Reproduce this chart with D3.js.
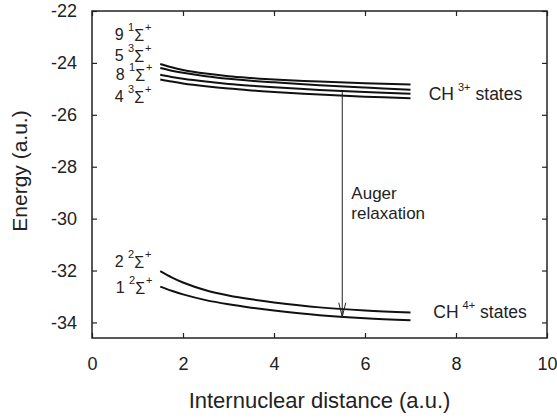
<!DOCTYPE html>
<html>
<head>
<meta charset="utf-8">
<script src="https://cdn.jsdelivr.net/npm/d3@7"></script>
<style>
  body { margin: 0; background: #fff; }
  text { font-family: Arial, "Liberation Sans", sans-serif; fill: #222; }
</style>
</head>
<body>
<div id="chart"></div>
<script>
// internuclear distance grid (a.u.)
var distance = [1.5, 1.75, 2, 2.5, 3, 3.5, 4, 5, 6, 7];

// CH3+ states, energies (a.u.), top to bottom
var ch3_9_1sig = [-24.04, -24.17, -24.27, -24.41, -24.51, -24.58, -24.64, -24.72, -24.78, -24.83];
var ch3_5_3sig = [-24.20, -24.30, -24.38, -24.51, -24.61, -24.69, -24.75, -24.86, -24.95, -25.03];
var ch3_8_1sig = [-24.46, -24.54, -24.61, -24.72, -24.81, -24.88, -24.94, -25.04, -25.12, -25.19];
var ch3_4_3sig = [-24.64, -24.72, -24.79, -24.90, -24.99, -25.06, -25.12, -25.22, -25.30, -25.36];

// CH4+ states
var ch4_2_2sig = [-32.02, -32.26, -32.46, -32.76, -32.96, -33.11, -33.23, -33.42, -33.54, -33.62];
var ch4_1_2sig = [-32.62, -32.78, -32.92, -33.14, -33.30, -33.43, -33.54, -33.72, -33.84, -33.92];

var curves = [ch3_9_1sig, ch3_5_3sig, ch3_8_1sig, ch3_4_3sig, ch4_2_2sig, ch4_1_2sig];

// state labels: number, multiplicity, anchor (r, E)
var stateNames = ["9", "5", "8", "4", "2", "1"];
var stateMult = ["1", "3", "1", "3", "2", "2"];
var stateLabelR = [0.5, 0.5, 0.52, 0.5, 0.5, 0.52];
var stateLabelE = [-23.10, -23.91, -24.66, -25.49, -31.86, -32.88];

// axis ticks
var xTicks = [0, 2, 4, 6, 8, 10];
var yTicks = [-22, -24, -26, -28, -30, -32, -34];

// auger arrow
var augerR = 5.5;

var layout = {
    width: 557,
    height: 420,
    margin: {top: 11, right: 10, bottom: 82, left: 92}
};
var w = layout.width - layout.margin.left - layout.margin.right,
    h = layout.height - layout.margin.top - layout.margin.bottom;

var svg = d3.select("#chart").append("svg")
    .attr("width", layout.width)
    .attr("height", layout.height);

var g = svg.append("g")
    .attr("transform", "translate(" + layout.margin.left + "," + layout.margin.top + ")");

var x = d3.scaleLinear().domain([0, 10]).range([0, w]);
var y = d3.scaleLinear().domain([-34.6, -22]).range([h, 0]);

// plain hyphen minus, like the original
var fmt = function(d) { return String(d); };

// axes, ticks pointing inward
var xAxis = g.append("g")
    .attr("transform", "translate(0," + h + ")")
    .call(d3.axisBottom(x).tickValues(xTicks).tickFormat(fmt).tickSizeInner(-5).tickSizeOuter(0).tickPadding(19));
var yAxis = g.append("g")
    .call(d3.axisLeft(y).tickValues(yTicks).tickFormat(fmt).tickSizeInner(-5).tickSizeOuter(0).tickPadding(15));
var xTop = g.append("g")
    .call(d3.axisTop(x).tickValues(xTicks).tickSizeInner(-5).tickSizeOuter(0).tickFormat(""));
var yRight = g.append("g")
    .attr("transform", "translate(" + w + ",0)")
    .call(d3.axisRight(y).tickValues(yTicks).tickSizeInner(-5).tickSizeOuter(0).tickFormat(""));

[xAxis, yAxis, xTop, yRight].forEach(function(a) {
    a.select(".domain").remove();
    a.selectAll("line").attr("stroke", "#222").attr("stroke-width", 1.2);
    a.selectAll("text").style("font-size", "18px").attr("fill", "#222")
        .style("font-family", "Arial, 'Liberation Sans', sans-serif");
});

// frame
g.append("rect")
    .attr("width", w).attr("height", h)
    .attr("fill", "none")
    .attr("stroke", "#222")
    .attr("stroke-width", 1.5);

// potential curves
var line = d3.line()
    .x(function(d, i) { return x(distance[i]); })
    .y(function(d) { return y(d); })
    .curve(d3.curveCatmullRom);

g.selectAll("path.curve")
    .data(curves)
    .enter()
    .append("path")
    .attr("class", "curve")
    .attr("d", line)
    .attr("fill", "none")
    .attr("stroke", "#111")
    .attr("stroke-width", 2);

// state labels
stateNames.forEach(function(n, i) {
    var t = g.append("text")
        .attr("x", x(stateLabelR[i]))
        .attr("y", y(stateLabelE[i]))
        .style("font-size", "16px");
    t.append("tspan").text(n + " ");
    t.append("tspan").attr("dy", -9).style("font-size", "11px").text(stateMult[i]);
    t.append("tspan").attr("dy", 10).style("font-size", "16px").text("\u03A3");
    t.append("tspan").attr("dy", -10).attr("dx", 1).style("font-size", "11px").text("+");
});

// auger arrow from the CH3+ band down to the CH4+ ground state
var augerIdx = distance.indexOf(5);
var yStart = y(d3.interpolateNumber(ch3_8_1sig[augerIdx], ch3_8_1sig[augerIdx + 1])(0.5));
var yEnd = y(d3.interpolateNumber(ch4_1_2sig[augerIdx], ch4_1_2sig[augerIdx + 1])(0.5));
var ax = x(augerR);

g.append("line")
    .attr("x1", ax).attr("x2", ax)
    .attr("y1", yStart).attr("y2", yEnd)
    .attr("stroke", "#222").attr("stroke-width", 1);
g.append("path")
    .attr("d", "M" + (ax - 3.5) + "," + (yEnd - 14) + "L" + ax + "," + yEnd + "L" + (ax + 3.5) + "," + (yEnd - 14))
    .attr("fill", "none")
    .attr("stroke", "#222").attr("stroke-width", 1);

g.append("text")
    .attr("x", x(5.7)).attr("y", y(-29.26))
    .style("font-size", "17px").text("Auger");
g.append("text")
    .attr("x", x(5.7)).attr("y", y(-30.0))
    .style("font-size", "17px").text("relaxation");

// band labels
function bandLabel(r, e, charge) {
    var t = g.append("text")
        .attr("x", x(r)).attr("y", y(e))
        .style("font-size", "17.5px");
    t.append("tspan").text("CH");
    t.append("tspan").attr("dy", -9).attr("dx", 4).style("font-size", "11px").text(charge);
    t.append("tspan").attr("dy", 9).attr("dx", 5).text("states");
}
bandLabel(7.4, -25.42, "3+");
bandLabel(7.5, -33.82, "4+");

// axis titles
svg.append("text")
    .attr("x", layout.margin.left + w / 2)
    .attr("y", 408)
    .attr("text-anchor", "middle")
    .style("font-size", "22px")
    .text("Internuclear distance (a.u.)");

svg.append("text")
    .attr("transform", "translate(27," + (layout.margin.top + 160) + ") rotate(-90)")
    .attr("text-anchor", "middle")
    .style("font-size", "21px")
    .text("Energy (a.u.)");
</script>
</body>
</html>
